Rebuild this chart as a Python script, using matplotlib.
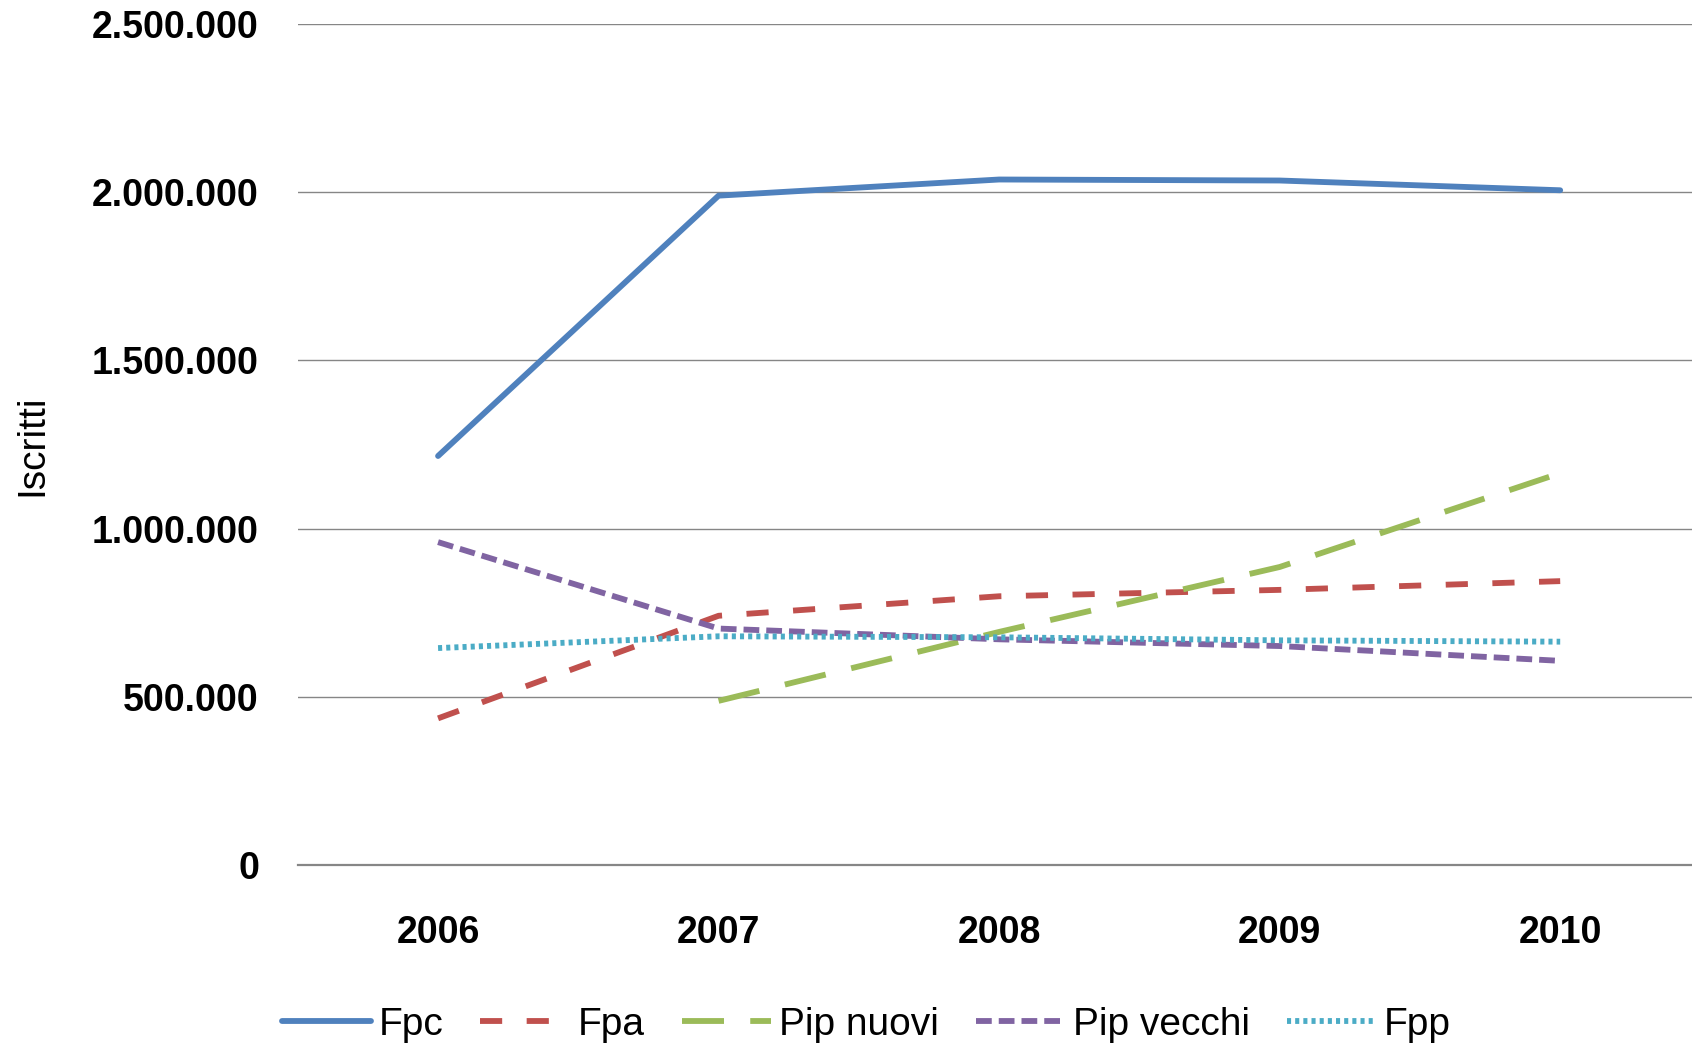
import numpy as np
from matplotlib import pyplot as plt
from matplotlib.ticker import FuncFormatter

# Data (iscritti per forma pensionistica)
years = ['2006', '2007', '2008', '2009', '2010']
fpc = [1216000, 1990000, 2038000, 2035000, 2006000]
fpa = [436000, 741000, 799000, 818000, 844000]
pip_nuovi = [np.nan, 488000, 693000, 886000, 1165000]
pip_vecchi = [960000, 703000, 671000, 651000, 607000]
fpp = [645000, 680000, 677000, 668000, 664000]

series = [
  ('Fpc', fpc, '#4F81BD', None),
  ('Fpa', fpa, '#C0504D', (3.8, 4.2)),
  ('Pip nuovi', pip_nuovi, '#9BBB59', (7.2, 4.5)),
  ('Pip vecchi', pip_vecchi, '#8064A2', (2.7, 1.2)),
  ('Fpp', fpp, '#4BACC6', (0.7, 0.7)),
]

tick_font = ['Liberation Sans', 'DejaVu Sans']

fig = plt.figure(figsize=(16.92, 10.48), dpi=100)
ax = fig.add_axes([0.176, 0.1746, 0.829, 0.8024])

x = np.arange(len(years))
lines = []
for name, vals, color, dash in series:
  line, = ax.plot(x, vals, color=color, lw=4.2, label=name,
                  solid_capstyle='round', dash_capstyle='butt')
  if dash is not None:
    line.set_dashes(dash)
  lines.append(line)

ax.set_xlim(-0.5, 4.5)
ax.set_ylim(0, 2500000)
ax.set_yticks([0, 500000, 1000000, 1500000, 2000000, 2500000])
ax.yaxis.set_major_formatter(FuncFormatter(lambda v, p: '{:,.0f}'.format(v).replace(',', '.')))
ax.set_xticks(x)
ax.set_xticklabels(years)

ax.grid(axis='y', color='#868686', lw=1.0)
ax.set_axisbelow(True)
for s in ['top', 'right', 'left']:
  ax.spines[s].set_visible(False)
ax.spines['bottom'].set_color('#868686')
ax.spines['bottom'].set_linewidth(1.6)
ax.tick_params(length=0)
ax.tick_params(axis='y', pad=28)
ax.tick_params(axis='x', pad=36)
for lbl in ax.get_xticklabels() + ax.get_yticklabels():
  lbl.set_family(tick_font)
  lbl.set_fontweight('bold')
  lbl.set_fontsize(27)

fig.text(32 / 1692, 1 - 445 / 1048, 'Iscritti', rotation=90, ha='center', va='center',
         family=tick_font, fontsize=28)

fig.legend(handles=lines, loc='center', bbox_to_anchor=(0.512, 0.022), ncol=5,
           frameon=False, handlelength=2.3, handletextpad=0.2, columnspacing=0.95,
           prop={'family': tick_font, 'size': 28})

plt.savefig('out.png', dpi=100)
